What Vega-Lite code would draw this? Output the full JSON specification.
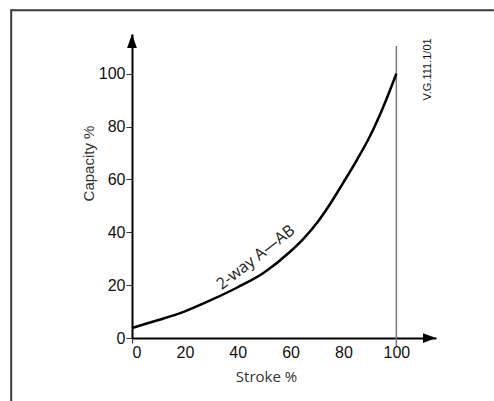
{
  "$schema": "https://vega.github.io/schema/vega-lite/v6.json",
  "usermeta": {"embedOptions": {"actions": false}},
  "width": 304,
  "height": 304,
  "autosize": "none",
  "padding": {"left": 132, "top": 34, "right": 58, "bottom": 63},
  "background": "white",
  "config": {"view": {"stroke": null}},
  "layer": [
    {
      "data": {"values": [{}]},
      "mark": {"type": "rule", "stroke": "#3a3a3a", "strokeWidth": 2},
      "encoding": {
        "x": {"datum": -45.7, "type": "quantitative"},
        "x2": {"datum": 136.9},
        "y": {"datum": 124, "type": "quantitative"}
      }
    },
    {
      "data": {"values": [{}]},
      "mark": {"type": "rule", "stroke": "#3a3a3a", "strokeWidth": 2},
      "encoding": {
        "x": {"datum": -45.7, "type": "quantitative"},
        "y": {"datum": 124.4, "type": "quantitative"},
        "y2": {"datum": -24}
      }
    },
    {
      "data": {"values": [{}]},
      "mark": {"type": "rule", "stroke": "#777777", "strokeWidth": 1.5},
      "encoding": {
        "x": {"datum": 100, "type": "quantitative"},
        "y": {"datum": -3, "type": "quantitative"},
        "y2": {"datum": 110.5}
      }
    },
    {
      "data": {"values": [
        {"stroke": 0, "capacity": 3.8},
        {"stroke": 10, "capacity": 6.8},
        {"stroke": 20, "capacity": 10.1},
        {"stroke": 30, "capacity": 14.4},
        {"stroke": 40, "capacity": 19.2},
        {"stroke": 50, "capacity": 24.8},
        {"stroke": 60, "capacity": 32.8},
        {"stroke": 65, "capacity": 37.7},
        {"stroke": 70, "capacity": 43.6},
        {"stroke": 75, "capacity": 50.8},
        {"stroke": 80, "capacity": 58.9},
        {"stroke": 85, "capacity": 67.2},
        {"stroke": 90, "capacity": 76.3},
        {"stroke": 95, "capacity": 87.3},
        {"stroke": 100, "capacity": 100}
      ]},
      "mark": {"type": "line", "color": "black", "strokeWidth": 2.5, "interpolate": "monotone"},
      "encoding": {
        "x": {
          "field": "stroke", "type": "quantitative",
          "scale": {"domain": [0, 115], "nice": false, "zero": false},
          "axis": {
            "title": "Stroke %",
            "values": [0, 10, 20, 30, 40, 50, 60, 70, 80, 90, 100],
            "labelExpr": "datum.value % 20 === 0 ? datum.label : ''",
            "grid": false,
            "domainColor": "black", "domainWidth": 2,
            "tickSize": 5, "tickWidth": 1,
            "tickColor": {"condition": {"test": "datum.value % 20 === 0 && datum.value > 0 && datum.value < 100", "value": "transparent"}, "value": "#333333"},
            "labelFont": "Liberation Sans", "labelFontSize": 16, "labelColor": "#111111", "labelPadding": 1,
            "titleFont": "Open Sans", "titleFontSize": 15, "titleFontWeight": "normal", "titleColor": "#333333",
            "titleX": 134, "titleY": 38, "titleBaseline": "middle", "titleAlign": "center"
          }
        },
        "y": {
          "field": "capacity", "type": "quantitative",
          "scale": {"domain": [0, 115], "nice": false, "zero": false},
          "axis": {
            "title": "Capacity %",
            "values": [0, 10, 20, 30, 40, 50, 60, 70, 80, 90, 100],
            "labelExpr": "datum.value % 20 === 0 ? datum.label : ''",
            "grid": false,
            "domainColor": "black", "domainWidth": 2,
            "tickSize": 6, "tickWidth": 1, "tickColor": "#333333",
            "labelFont": "Liberation Sans", "labelFontSize": 16, "labelColor": "#111111", "labelPadding": 1,
            "titleFont": "Liberation Sans", "titleFontSize": 15, "titleFontWeight": "normal", "titleColor": "#333333",
            "titleX": -44, "titleY": 129, "titleBaseline": "middle", "titleAlign": "center", "titleAngle": -90
          }
        }
      }
    },
    {
      "data": {"values": [{}]},
      "mark": {"type": "point", "filled": true, "opacity": 1, "color": "black", "shape": "M-0.7,2L0,0L0.7,2Z", "size": 196},
      "encoding": {
        "x": {"datum": 0, "type": "quantitative"},
        "y": {"datum": 115, "type": "quantitative"}
      }
    },
    {
      "data": {"values": [{}]},
      "mark": {"type": "point", "filled": true, "opacity": 1, "color": "black", "shape": "M-2,-0.75L0,0L-2,0.75Z", "size": 169},
      "encoding": {
        "x": {"datum": 115, "type": "quantitative"},
        "y": {"datum": 0, "type": "quantitative"}
      }
    },
    {
      "data": {"values": [{"label": "2-way A—AB"}]},
      "mark": {"type": "text", "angle": -38, "font": "Open Sans", "fontSize": 16, "color": "#222222", "align": "center", "baseline": "middle"},
      "encoding": {
        "text": {"field": "label"},
        "x": {"datum": 46.8, "type": "quantitative"},
        "y": {"datum": 30.5, "type": "quantitative"}
      }
    },
    {
      "data": {"values": [{"label": "V.G.111.1/01"}]},
      "mark": {"type": "text", "angle": -90, "font": "Liberation Sans", "fontSize": 11, "color": "#111111", "align": "center", "baseline": "middle"},
      "encoding": {
        "text": {"field": "label"},
        "x": {"datum": 111.9, "type": "quantitative"},
        "y": {"datum": 101.6, "type": "quantitative"}
      }
    }
  ]
}
